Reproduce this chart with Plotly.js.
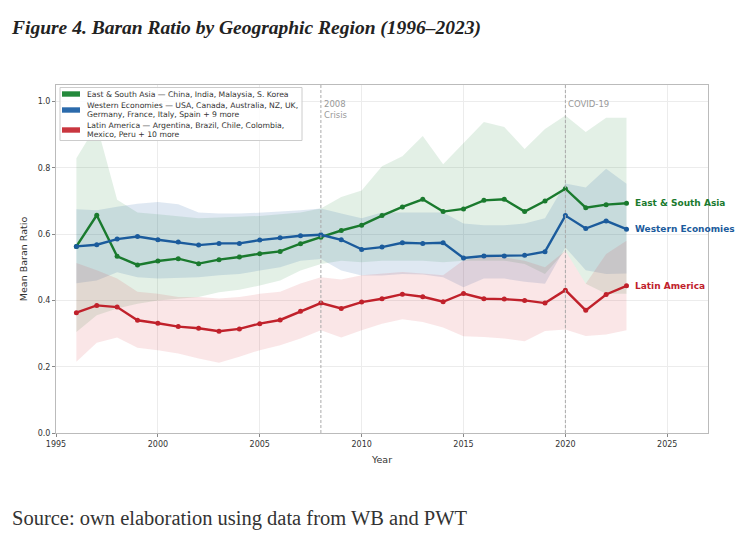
<!DOCTYPE html>
<html>
<head>
<meta charset="utf-8">
<script src="https://cdn.plot.ly/plotly-3.0.1.min.js"></script>
<style>html,body{margin:0;padding:0;background:#fff;}#chart{width:743px;height:538px;}</style>
</head>
<body>
<div id="chart"></div>
<script>
// ---- data ----
const years = [1996,1997,1998,1999,2000,2001,2002,2003,2004,2005,2006,2007,2008,2009,2010,2011,2012,2013,2014,2015,2016,2017,2018,2019,2020,2021,2022,2023];

const asiaMean = [0.563,0.657,0.533,0.507,0.519,0.526,0.511,0.523,0.531,0.541,0.548,0.571,0.591,0.611,0.627,0.656,0.682,0.705,0.668,0.676,0.702,0.705,0.668,0.700,0.737,0.680,0.689,0.693];
const asiaHigh = [0.829,0.930,0.704,0.665,0.660,0.655,0.648,0.650,0.652,0.655,0.660,0.665,0.677,0.712,0.732,0.805,0.835,0.896,0.811,0.873,0.938,0.923,0.857,0.917,0.958,0.908,0.951,0.951];
const asiaLow  = [0.305,0.355,0.376,0.390,0.400,0.405,0.410,0.425,0.432,0.445,0.460,0.490,0.510,0.520,0.515,0.520,0.520,0.520,0.515,0.520,0.520,0.520,0.510,0.480,0.550,0.450,0.420,0.420];

const westMean = [0.563,0.568,0.585,0.593,0.583,0.576,0.567,0.572,0.572,0.582,0.589,0.595,0.598,0.583,0.554,0.561,0.574,0.572,0.574,0.528,0.534,0.534,0.536,0.547,0.656,0.617,0.640,0.615];
const westHigh = [0.675,0.672,0.683,0.692,0.697,0.690,0.665,0.662,0.662,0.664,0.668,0.672,0.677,0.662,0.648,0.665,0.665,0.665,0.665,0.632,0.627,0.627,0.632,0.648,0.753,0.741,0.797,0.752];
const westLow  = [0.452,0.460,0.485,0.470,0.466,0.468,0.470,0.476,0.480,0.490,0.500,0.520,0.525,0.490,0.475,0.475,0.480,0.478,0.470,0.440,0.466,0.466,0.456,0.450,0.560,0.491,0.480,0.481];

const latMean = [0.363,0.385,0.380,0.340,0.331,0.321,0.316,0.307,0.314,0.330,0.341,0.367,0.392,0.376,0.395,0.405,0.419,0.411,0.396,0.421,0.405,0.404,0.400,0.392,0.431,0.370,0.418,0.444];
const latHigh = [0.513,0.491,0.466,0.426,0.420,0.410,0.410,0.406,0.410,0.420,0.426,0.451,0.470,0.463,0.476,0.481,0.486,0.481,0.476,0.521,0.531,0.530,0.520,0.500,0.550,0.450,0.540,0.580];
const latLow  = [0.215,0.272,0.288,0.257,0.250,0.240,0.225,0.212,0.230,0.250,0.265,0.285,0.310,0.288,0.310,0.330,0.343,0.335,0.318,0.292,0.290,0.285,0.277,0.308,0.312,0.293,0.297,0.310];

const seriesNames = ["East & South Asia", "Western Economies", "Latin America"];
const legendLines = [
  ["East & South Asia — China, India, Malaysia, S. Korea"],
  ["Western Economies — USA, Canada, Australia, NZ, UK,", "Germany, France, Italy, Spain + 9 more"],
  ["Latin America — Argentina, Brazil, Chile, Colombia,", "Mexico, Peru + 10 more"]
];
const eventYears = [2008, 2020];
const eventLabels = ["2008<br>Crisis", "COVID-19"];
const yTicks = [0, 0.2, 0.4, 0.6, 0.8, 1.0];
const xTicks = [1995, 2000, 2005, 2010, 2015, 2020, 2025];

// ---- styling ----
const lineColors = ["#1a7a2e", "#1b5b9c", "#c0212b"];
const bandColors = ["rgba(40,140,60,0.13)", "rgba(40,100,170,0.15)", "rgba(210,50,60,0.12)"];
const legendColors = ["#23893b", "#2b6aab", "#c9363f"];

const means = [asiaMean, westMean, latMean];
const highs = [asiaHigh, westHigh, latHigh];
const lows = [asiaLow, westLow, latLow];

// geometry helpers (pixel -> paper)
const L = 56, R = 708, T = 85, B = 433;
const px = v => (v - L) / (R - L);
const py = v => (B - v) / (B - T);

const traces = [];
for (let i = 0; i < 3; i++) {
  traces.push({x: years, y: lows[i], type: 'scatter', mode: 'lines', line: {width: 0, color: bandColors[i]}, showlegend: false, hoverinfo: 'skip'});
  traces.push({x: years, y: highs[i], type: 'scatter', mode: 'lines', line: {width: 0, color: bandColors[i]}, fill: 'tonexty', fillcolor: bandColors[i], showlegend: false, hoverinfo: 'skip'});
}
for (let i = 0; i < 3; i++) {
  traces.push({x: years, y: means[i], type: 'scatter', mode: 'lines+markers', name: seriesNames[i],
    line: {width: 2.4, color: lineColors[i]}, marker: {size: 5, color: lineColors[i]}, showlegend: false});
}

const shapes = eventYears.map(yr => ({type: 'line', xref: 'x', yref: 'paper', x0: yr, x1: yr, y0: 0, y1: 1,
  line: {color: '#aaaaaa', width: 1, dash: '3px,2px'}, layer: 'above'}));

// manual legend box
shapes.push({type: 'rect', xref: 'paper', yref: 'paper', x0: px(60), x1: px(302), y0: py(140.5), y1: py(87.5),
  fillcolor: 'rgba(255,255,255,0.85)', line: {color: '#cccccc', width: 1}, layer: 'above'});
const patchCenters = [94, 110, 130];
const lineCenters = [[94], [105.5, 114.5], [125.5, 134.5]];
for (let i = 0; i < 3; i++) {
  shapes.push({type: 'rect', xref: 'paper', yref: 'paper', x0: px(62), x1: px(80), y0: py(patchCenters[i] + 2.7), y1: py(patchCenters[i] - 2.7),
    fillcolor: legendColors[i], line: {width: 0}, layer: 'above'});
}

const annotations = [];
for (let i = 0; i < 3; i++) {
  legendLines[i].forEach((t, j) => annotations.push({xref: 'paper', yref: 'paper', x: px(85), y: py(lineCenters[i][j]),
    xanchor: 'left', yanchor: 'middle', text: t, showarrow: false, font: {family: 'DejaVu Sans', size: 7.7, color: '#333'}}));
}
eventYears.forEach((yr, i) => annotations.push({xref: 'x', yref: 'paper', x: yr, y: 0.965, xanchor: 'left', yanchor: 'top', xshift: 1,
  text: eventLabels[i], showarrow: false, align: 'left', font: {family: 'DejaVu Sans', size: 8.5, color: '#999'}}));
for (let i = 0; i < 3; i++) {
  const n = years.length - 1;
  annotations.push({xref: 'x', yref: 'y', x: years[n], y: means[i][n], xanchor: 'left', yanchor: 'middle', xshift: 6,
    text: '<b>' + seriesNames[i] + '</b>', showarrow: false, font: {family: 'DejaVu Sans', size: 9, color: lineColors[i]}});
}
annotations.push({xref: 'paper', yref: 'paper', x: px(10), y: py(518), xanchor: 'left', yanchor: 'middle',
  text: 'Source: own elaboration using data from WB and PWT', showarrow: false,
  font: {family: 'Liberation Serif', size: 20.5, color: '#333'}});

const layout = {
  width: 743, height: 538,
  margin: {l: L, r: 743 - R, t: T, b: 538 - B},
  paper_bgcolor: '#fff', plot_bgcolor: '#fff',
  font: {family: 'DejaVu Sans', color: '#333'},
  title: {text: '<b><i>Figure 4. Baran Ratio by Geographic Region (1996–2023)</i></b>', x: 12/743, xanchor: 'left', xref: 'container',
    y: 1 - 27/538, yanchor: 'middle', yref: 'container', font: {family: 'Liberation Serif', size: 19.5, color: '#222'}},
  xaxis: {range: [1995, 2027], tickvals: xTicks, ticktext: xTicks.map(String), showgrid: true, gridcolor: '#ececec', gridwidth: 1,
    ticks: 'outside', ticklen: 3, tickcolor: '#888', showline: true, linecolor: '#bbb', linewidth: 1, mirror: true, zeroline: false,
    tickfont: {size: 8, color: '#333'}, title: {text: 'Year', font: {size: 9.5, color: '#333'}, standoff: 8}},
  yaxis: {range: [0, 1.05], tickvals: yTicks, ticktext: yTicks.map(v => v.toFixed(1)), showgrid: true, gridcolor: '#ececec', gridwidth: 1,
    ticks: 'outside', ticklen: 3, tickcolor: '#888', showline: true, linecolor: '#bbb', linewidth: 1, mirror: true, zeroline: false,
    tickfont: {size: 8, color: '#333'}, title: {text: 'Mean Baran Ratio', font: {size: 9.5, color: '#333'}, standoff: 8}},
  shapes: shapes,
  annotations: annotations,
  showlegend: false
};

Plotly.newPlot('chart', traces, layout, {displayModeBar: false, staticPlot: true});
</script>
</body>
</html>
